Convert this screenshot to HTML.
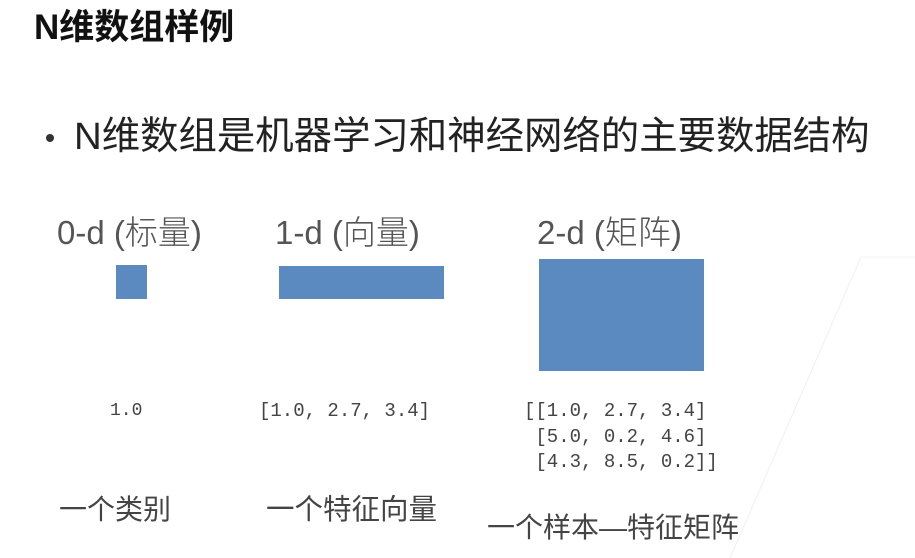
<!DOCTYPE html>
<html><head><meta charset="utf-8">
<style>
body{margin:0;width:915px;height:558px;background:#fff;overflow:hidden;position:relative;font-family:"Liberation Sans","Noto Sans CJK SC",sans-serif}
div{position:absolute;white-space:nowrap;line-height:1}
.lab{font-size:33px;color:#555;font-weight:300}
.mono{font-family:"Liberation Mono","DejaVu Sans Mono",monospace;font-size:19px;color:#444;line-height:25.5px}
.cap{font-size:28px;color:#444}
.box{background:#5a8ac0}
</style></head><body>
<div style="left:34px;top:10px;font-size:35px;font-weight:bold;color:#111">N维数组样例</div>
<div style="left:46px;top:134px;width:8px;height:8px;border-radius:50%;background:#333"></div>
<div style="left:74px;top:118px;font-size:38.4px;color:#222">N维数组是机器学习和神经网络的主要数据结构</div>

<div class="lab" style="left:57px;top:216px">0-d (标量)</div>
<div class="lab" style="left:275px;top:216px">1-d (向量)</div>
<div class="lab" style="left:537px;top:216px">2-d (矩阵)</div>

<div class="box" style="left:116px;top:265px;width:31px;height:34px"></div>
<div class="box" style="left:279px;top:266px;width:165px;height:33px"></div>
<div class="box" style="left:539px;top:259px;width:165px;height:112px"></div>

<div class="mono" style="left:110px;top:399px;font-size:18px">1.0</div>
<div class="mono" style="left:259px;top:399px">[1.0, 2.7, 3.4]</div>
<div class="mono" style="left:524px;top:399px;white-space:pre">[[1.0, 2.7, 3.4]
 [5.0, 0.2, 4.6]
 [4.3, 8.5, 0.2]]</div>

<div class="cap" style="left:59px;top:496px">一个类别</div>
<div class="cap" style="left:266px;top:496px;font-size:28.5px">一个特征向量</div>
<div class="cap" style="left:487px;top:514px">一个样本—特征矩阵</div>

<svg style="position:absolute;left:0;top:0" width="915" height="558">
<line x1="861" y1="257" x2="730" y2="558" stroke="#f0f0f0" stroke-width="1"/>
<line x1="861" y1="257" x2="915" y2="257" stroke="#f3f3f3" stroke-width="1"/>
</svg>
</body></html>
